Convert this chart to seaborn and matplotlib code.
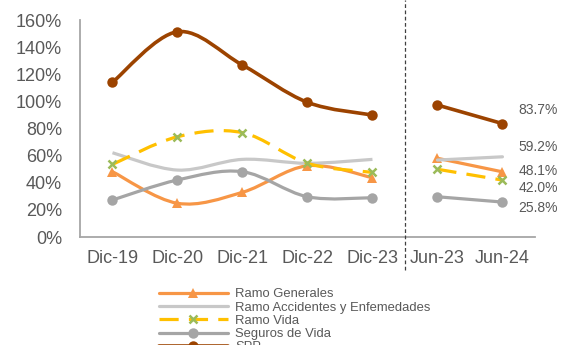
import seaborn as sns
import matplotlib.pyplot as plt
import pandas as pd
from matplotlib.path import Path
from matplotlib.patches import PathPatch

periodos = ["Dic-19", "Dic-20", "Dic-21", "Dic-22", "Dic-23", "Jun-23", "Jun-24"]
anuales = periodos[:5]
semestres = periodos[5:]

ramo_generales = [48.2, 24.9, 33.0, 52.6, 43.8, 58.1, 48.1]
ramo_accidentes = [62.2, 49.4, 57.3, 54.4, 57.3, 56.8, 59.2]
ramo_vida = [53.6, 74.0, 77.0, 54.4, 47.7, 50.0, 42.0]
seguros_vida = [27.3, 42.1, 48.2, 29.7, 29.0, 29.7, 25.8]
spp = [114.2, 151.5, 126.9, 99.4, 90.0, 97.4, 83.7]

etiquetas = ["83.7%", "59.2%", "48.1%", "42.0%", "25.8%"]
etiquetas_y = [93.8, 66.2, 48.4, 36.5, 21.6]

series = [
    ("Ramo Generales", ramo_generales, dict(color="#F79646", marker="^", ls="-")),
    ("Ramo Accidentes y Enfemedades", ramo_accidentes, dict(color="#C8C8C8", marker=None, ls="-")),
    ("Ramo Vida", ramo_vida, dict(color="#FFC000", marker="x", ls="--")),
    ("Seguros de Vida", seguros_vida, dict(color="#A5A5A5", marker="o", ls="-")),
    ("SPP", spp, dict(color="#9C4300", marker="o", ls="-")),
]

gris = "#595959"
sns.set_style("white")
plt.rcParams["font.family"] = ["Liberation Sans", "DejaVu Sans"]


def curva(xs, ys):
    # curva suavizada tipo Excel (Catmull-Rom -> Bezier)
    pts = list(zip(xs, ys))
    verts = [pts[0]]
    codes = [Path.MOVETO]
    for i in range(len(pts) - 1):
        p0 = pts[i - 1] if i > 0 else pts[i]
        p1, p2 = pts[i], pts[i + 1]
        p3 = pts[i + 2] if i + 2 < len(pts) else pts[i + 1]
        c1 = (p1[0] + (p2[0] - p0[0]) / 6, p1[1] + (p2[1] - p0[1]) / 6)
        c2 = (p2[0] - (p3[0] - p1[0]) / 6, p2[1] - (p3[1] - p1[1]) / 6)
        verts += [c1, c2, p2]
        codes += [Path.CURVE4] * 3
    return Path(verts, codes)


fig = plt.figure(figsize=(5.68, 3.45), dpi=100)
ax = fig.add_axes([0.1408, 0.313, 0.801, 0.6284])

pos = list(range(len(periodos)))
x_dic = pos[:5]
x_jun = pos[5:]

for i, (nombre, vals, st) in enumerate(series):
    lw = 2.6 if nombre == "SPP" else 2.3
    dash = (0, (6.0, 3.2)) if st["ls"] == "--" else "-"
    mk = st["marker"]
    mcol = "#9BBB59" if mk == "x" else st["color"]
    ms = 6 if mk == "x" else 7.5
    z = 3 + i

    patch = PathPatch(curva(x_dic, vals[:5]), fill=False, edgecolor=st["color"],
                      lw=lw, linestyle=dash, zorder=z, capstyle="butt")
    ax.add_patch(patch)

    df_j = pd.DataFrame({"x": x_jun, "y": vals[5:]})
    sns.lineplot(data=df_j, x="x", y="y", ax=ax, color=st["color"], lw=lw,
                 linestyle=dash, marker=mk, markersize=ms, markerfacecolor=mcol,
                 markeredgecolor=mcol, markeredgewidth=1.8 if mk == "x" else 0,
                 label=nombre, zorder=z)
    if mk is not None:
        df_d = pd.DataFrame({"x": x_dic, "y": vals[:5]})
        sns.lineplot(data=df_d, x="x", y="y", ax=ax, linestyle="none", marker=mk,
                     markersize=ms, markerfacecolor=mcol, markeredgecolor=mcol,
                     markeredgewidth=1.8 if mk == "x" else 0, zorder=z + 0.5)

# separador entre anual y semestral
ax.plot([4.5, 4.5], [-24, 175], color="#404040", lw=0.9, ls=(0, (3, 2)),
        clip_on=False, zorder=10)

for txt, yv in zip(etiquetas, etiquetas_y):
    ax.text(6.25, yv, txt, ha="left", va="center", fontsize=10, color=gris)

ax.set_xlim(-0.5, 6.5)
ax.set_ylim(0, 160)
ax.set_yticks(range(0, 161, 20))
ax.set_yticklabels([f"{v}%" for v in range(0, 161, 20)])
ax.set_xticks(pos)
ax.set_xticklabels(periodos)
ax.set_xticks([p - 0.5 for p in pos] + [6.5], minor=True)
ax.tick_params(axis="x", which="major", length=0, pad=9, labelsize=13, labelcolor=gris)
ax.tick_params(axis="x", which="minor", length=5, width=1.3, color="#A6A6A6", direction="out")
ax.tick_params(axis="y", length=0, pad=13, labelsize=13, labelcolor=gris)
ax.set_xlabel("")
ax.set_ylabel("")
for s in ["top", "right"]:
    ax.spines[s].set_visible(False)
for s in ["left", "bottom"]:
    ax.spines[s].set_color("#A6A6A6")
    ax.spines[s].set_linewidth(1.3)

handles, labels = ax.get_legend_handles_labels()
ax.legend_.remove()
fig.legend(handles, labels, loc="upper left", bbox_to_anchor=(0.268, 0.184),
           frameon=False, fontsize=9.4, handlelength=5.3, handletextpad=0.55,
           labelspacing=0.09, borderpad=0, labelcolor=gris)

fig.savefig("out.png", dpi=100)
